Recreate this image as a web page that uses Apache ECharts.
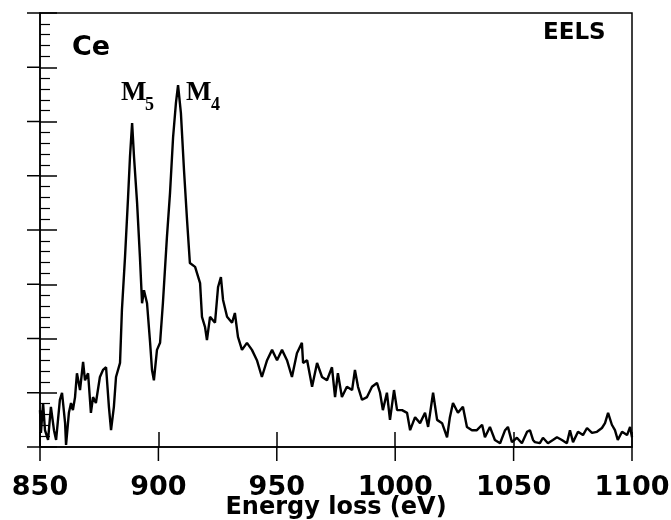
<!DOCTYPE html>
<html>
<head>
<meta charset="utf-8">
<script src="https://cdn.jsdelivr.net/npm/echarts@6/dist/echarts.min.js"></script>
<style>
html, body { margin: 0; background: #fff; }
#main { width: 671px; height: 520px; }
</style>
</head>
<body>
<div id="main"></div>
<script>
// energy loss (eV) and intensity (arb. units, 0..8)
var energy = [850.0,850.4,851.3,852.1,853.4,854.6,855.9,856.8,858.4,859.3,860.6,861.0,862.2,863.1,863.9,864.8,865.6,866.9,868.2,869.0,870.3,871.5,872.4,873.6,875.3,876.6,877.9,879.1,880.0,881.2,882.1,883.8,
    884.6,885.9,887.2,888.0,888.9,889.7,891.0,892.2,893.1,893.9,
    895.2,896.5,897.3,898.1,899.4,900.7,901.9,903.6,904.9,906.2,
    907.4,908.3,909.5,910.8,912.1,913.3,915.5,917.6,918.4,919.7,
    920.5,921.8,923.9,925.2,926.4,927.3,929.0,931.1,932.3,933.6,
    935.3,937.4,939.5,941.6,943.7,945.9,948.0,950.1,952.2,954.3,
    956.4,958.5,960.6,961.1,962.8,964.9,967.0,969.1,971.2,973.3,
    974.6,975.8,977.5,979.6,981.8,983.0,984.3,986.0,988.1,990.2,
    992.3,993.6,994.8,996.5,997.8,999.5,1000.8,1002.9,1005.0,1006.3,
    1008.4,1010.5,1012.6,1013.9,1016.0,1017.7,1019.8,1021.9,1023.1,1024.4,
    1026.5,1028.6,1030.3,1032.4,1034.5,1036.7,1037.9,1040.0,1042.1,1044.3,
    1046.4,1047.6,1049.3,1051.4,1053.5,1055.7,1056.9,1058.2,1059.0,1061.1,
    1062.4,1064.5,1066.6,1068.3,1070.4,1072.5,1073.8,1075.1,1077.2,1079.3,
    1081.0,1083.1,1085.2,1087.3,1088.6,1089.9,1091.5,1092.8,1094.0,1095.8,
    1097.9,1099.2,1100];

var counts = [0.68,0.26,0.81,0.31,0.13,0.74,0.31,0.13,0.87,1.00,0.44,0.04,0.63,0.81,0.68,0.92,1.36,1.05,1.57,1.23,1.36,0.63,0.92,0.81,1.29,1.42,1.47,0.74,0.31,0.74,1.29,1.55,
    2.53,3.50,4.61,5.35,5.97,5.35,4.50,3.50,2.65,2.89,
    2.65,1.92,1.42,1.23,1.79,1.92,2.65,3.87,4.68,5.71,
    6.34,6.67,6.16,5.11,4.18,3.39,3.32,3.02,2.40,2.21,
    1.97,2.40,2.29,2.95,3.13,2.71,2.40,2.29,2.47,2.03,
    1.79,1.92,1.79,1.60,1.29,1.60,1.79,1.60,1.79,1.60,
    1.29,1.73,1.92,1.55,1.60,1.11,1.55,1.29,1.23,1.47,
    0.92,1.36,0.92,1.11,1.05,1.42,1.11,0.87,0.92,1.11,
    1.18,1.00,0.68,1.00,0.50,1.05,0.68,0.68,0.63,0.31,
    0.55,0.44,0.63,0.37,1.00,0.50,0.44,0.18,0.55,0.81,
    0.63,0.74,0.37,0.31,0.31,0.41,0.18,0.37,0.13,0.07,
    0.31,0.37,0.09,0.17,0.07,0.28,0.31,0.13,0.09,0.07,
    0.17,0.07,0.13,0.18,0.13,0.07,0.31,0.09,0.28,0.22,
    0.35,0.26,0.28,0.35,0.44,0.63,0.41,0.31,0.13,0.28,
    0.22,0.37,0.18];

var xTicks = [850, 900, 950, 1000, 1050, 1100];
var yTicks = [0, 1, 2, 3, 4, 5, 6, 7, 8];

var xMin = 850, xMax = 1100, xStep = 50;
var yMin = 0, yMax = 8, yStep = 1;

var spectrum = energy.map(function (e, i) { return [e, counts[i]]; });

var myChart = echarts.init(document.getElementById('main'));

var sans = 'DejaVu Sans';
var serif = 'Liberation Serif';
var black = { color: '#000', width: 1.5 };

// outward half of a crossing major tick, placed through the axis scales
function outerTick(dx, dy) {
    return function (params, api) {
        var p = api.coord([api.value(0), api.value(1)]);
        return {
            type: 'line',
            shape: { x1: p[0], y1: p[1], x2: p[0] + dx, y2: p[1] + dy },
            style: { stroke: '#000', lineWidth: 1.5 }
        };
    };
}

var option = {
    animation: false,
    backgroundColor: '#fff',
    grid: {
        left: 40, right: 39, top: 13, bottom: 73,
        outerBoundsMode: 'none', containLabel: false,
        show: true, borderColor: '#000', borderWidth: 1.5
    },
    xAxis: {
        type: 'value', min: xMin, max: xMax, interval: xStep,
        position: 'bottom',
        name: 'Energy loss (eV)', nameLocation: 'middle', nameGap: 49,
        nameMoveOverlap: false,
        nameTextStyle: { fontFamily: sans, fontWeight: 'bold', fontSize: 24, color: '#000' },
        axisLine: { show: true, lineStyle: black },
        axisTick: { show: true, inside: true, length: 15, lineStyle: black },
        axisLabel: {
            margin: 27, fontFamily: sans, fontWeight: 'bold', fontSize: 27, color: '#000',
            formatter: function (v) { return String(v); }
        },
        splitLine: { show: false }
    },
    yAxis: {
        type: 'value', min: yMin, max: yMax, interval: yStep,
        position: 'left',
        axisLine: { show: true, lineStyle: black },
        axisTick: { show: true, inside: true, length: 17, lineStyle: black },
        minorTick: { show: true, splitNumber: 5, length: 10, lineStyle: { color: '#000', width: 1.2 } },
        axisLabel: { show: false },
        splitLine: { show: false }
    },
    graphic: [
        { type: 'text', left: 72, top: 34, style: { text: 'Ce', font: 'bold 27px "' + sans + '"', fill: '#000' } },
        { type: 'text', left: 543, top: 22, style: { text: 'EELS', font: 'bold 23px "' + sans + '"', fill: '#000' } },
        { type: 'text', left: 121, top: 80, style: { text: 'M', font: 'bold 27px "' + serif + '"', fill: '#000' } },
        { type: 'text', left: 145, top: 96, style: { text: '5', font: 'bold 18px "' + serif + '"', fill: '#000' } },
        { type: 'text', left: 186, top: 80, style: { text: 'M', font: 'bold 27px "' + serif + '"', fill: '#000' } },
        { type: 'text', left: 211, top: 96, style: { text: '4', font: 'bold 18px "' + serif + '"', fill: '#000' } }
    ],
    series: [
        {
            type: 'line',
            data: spectrum,
            showSymbol: false,
            lineStyle: { color: '#000', width: 2.4 }
        },
        {
            type: 'custom',
            silent: true,
            clip: false,
            data: xTicks.map(function (v) { return [v, yMin]; }),
            renderItem: outerTick(0, 14)
        },
        {
            type: 'custom',
            silent: true,
            clip: false,
            data: yTicks.map(function (v) { return [xMin, v]; }),
            renderItem: outerTick(-13, 0)
        }
    ]
};

myChart.setOption(option);
</script>
</body>
</html>
